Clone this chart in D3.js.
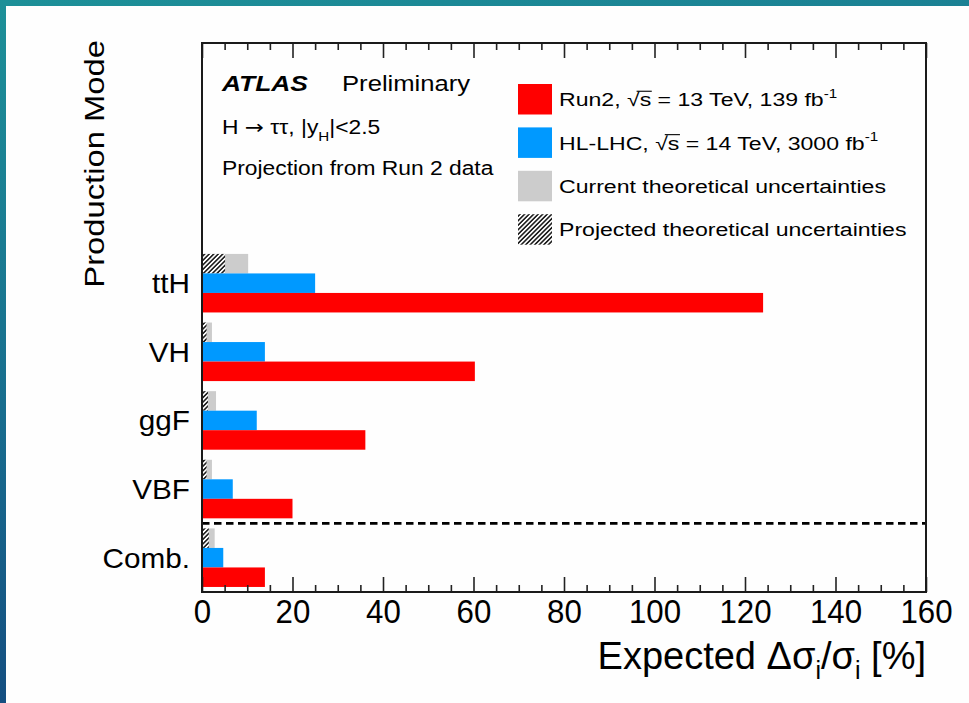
<!DOCTYPE html>
<html><head><meta charset="utf-8">
<script src="https://cdn.jsdelivr.net/npm/d3@7"></script>
<style>
body{margin:0;background:#fff;}
svg{display:block;}
text{font-family:"Liberation Sans",Arial,Helvetica,sans-serif;fill:#000;}
</style>
</head><body>
<svg id="chart" width="969" height="703"></svg>
<script>
// ---------------- data ----------------
const categories = ["ttH", "VH", "ggF", "VBF", "Comb."];
const run2Values = [124.0, 60.3, 36.1, 20.0, 13.9];
const hllhcValues = [25.0, 13.9, 12.1, 6.8, 4.7];
const currentTheoryValues = [10.2, 2.2, 3.1, 2.2, 2.8];
const projectedTheoryValues = [5.1, 1.0, 1.3, 1.0, 1.5];
const xMajorTicks = [0, 20, 40, 60, 80, 100, 120, 140, 160];
const xMinorTicks = d3.range(0, 161, 5).filter(v => v % 20 !== 0);
const legendKeys = ["run2", "hllhc", "current", "projected"];
const xDomain = [0, 160];

// ---------------- layout ----------------
const W = 969, H = 703;
const plot = {left: 202, right: 926, top: 43, bottom: 592};
const emptySlots = 3; // room above the bars kept for the legend
const colors = {run2: "#ff0000", hllhc: "#0099ff", current: "#cccccc"};

const svg = d3.select("#chart");
const defs = svg.append("defs");

// outer background gradient
const grad = defs.append("linearGradient").attr("id", "bg")
  .attr("x1", 0).attr("y1", 0).attr("x2", 0.25).attr("y2", 1);
grad.append("stop").attr("offset", "0%").attr("stop-color", "#1d9098");
grad.append("stop").attr("offset", "55%").attr("stop-color", "#186d8e");
grad.append("stop").attr("offset", "100%").attr("stop-color", "#144a7f");
svg.append("rect").attr("width", W).attr("height", H).attr("fill", "url(#bg)");
svg.append("rect").attr("x", 6).attr("y", 6).attr("width", W - 6).attr("height", H - 6).attr("fill", "#fefefe");

// hatch pattern
const pat = defs.append("pattern").attr("id", "hatch")
  .attr("patternUnits", "userSpaceOnUse").attr("width", 3.2).attr("height", 3.2)
  .attr("patternTransform", "rotate(45)");
pat.append("rect").attr("width", 3.2).attr("height", 3.2).attr("fill", "#ffffff");
pat.append("line").attr("x1", 0.8).attr("y1", 0).attr("x2", 0.8).attr("y2", 3.2)
  .attr("stroke", "#111").attr("stroke-width", 1.5);

// scales
const x = d3.scaleLinear().domain(xDomain).range([plot.left, plot.right]);
const slot = (plot.bottom - plot.top) / (categories.length + emptySlots);
const y = d3.scaleBand().domain(categories)
  .range([plot.top + emptySlots * slot, plot.bottom])
  .paddingInner(0.147).paddingOuter(0.0735);
const sub = d3.scaleBand().domain(["theory", "hllhc", "run2"]).range([0, y.bandwidth()]);

const rows = categories.map((c, i) => ({
  cat: c, run2: run2Values[i], hllhc: hllhcValues[i],
  current: currentTheoryValues[i], projected: projectedTheoryValues[i]
}));

// bars
const gBars = svg.append("g");
const grp = gBars.selectAll("g.grp").data(rows).join("g")
  .attr("transform", d => `translate(0,${y(d.cat)})`);
grp.append("rect").attr("x", x(0)).attr("y", sub("theory"))
  .attr("width", d => x(d.current) - x(0)).attr("height", sub.bandwidth())
  .attr("fill", colors.current);
grp.append("rect").attr("x", x(0)).attr("y", sub("theory"))
  .attr("width", d => x(d.projected) - x(0)).attr("height", sub.bandwidth())
  .attr("fill", "url(#hatch)");
grp.append("rect").attr("x", x(0)).attr("y", sub("hllhc"))
  .attr("width", d => x(d.hllhc) - x(0)).attr("height", sub.bandwidth())
  .attr("fill", colors.hllhc);
grp.append("rect").attr("x", x(0)).attr("y", sub("run2"))
  .attr("width", d => x(d.run2) - x(0)).attr("height", sub.bandwidth())
  .attr("fill", colors.run2);

// dashed separator between VBF and Comb.
const sepY = (y("VBF") + y.bandwidth() + y("Comb.")) / 2;
svg.append("line").attr("x1", plot.left).attr("x2", plot.right)
  .attr("y1", sepY).attr("y2", sepY)
  .attr("stroke", "#000").attr("stroke-width", 2.6).attr("stroke-dasharray", "7.5,4.5");

// axes (ticks inward, bottom and top)
function styleAxis(g) {
  g.select(".domain").remove();
  g.selectAll(".tick line").attr("stroke", "#222").attr("stroke-width", 1.6);
}
const axB = svg.append("g").attr("transform", `translate(0,${plot.bottom})`)
  .call(d3.axisBottom(x).tickValues(xMajorTicks).tickSize(-15).tickPadding(8).tickFormat(d3.format("d")))
  .call(styleAxis);
axB.selectAll(".tick text").attr("dy", null).attr("y", 31)
  .attr("font-size", 34).attr("transform", "scale(0.92,1)")
  .style("font-family", "'Liberation Sans',Arial,sans-serif").attr("fill", "#000");
svg.append("g").attr("transform", `translate(0,${plot.bottom})`)
  .call(d3.axisBottom(x).tickValues(xMinorTicks).tickSize(-7).tickFormat(""))
  .call(styleAxis);
svg.append("g").attr("transform", `translate(0,${plot.top})`)
  .call(d3.axisTop(x).tickValues(xMajorTicks).tickSize(-15).tickFormat(""))
  .call(styleAxis);
svg.append("g").attr("transform", `translate(0,${plot.top})`)
  .call(d3.axisTop(x).tickValues(xMinorTicks).tickSize(-7).tickFormat(""))
  .call(styleAxis);

// frame
svg.append("rect").attr("x", plot.left).attr("y", plot.top)
  .attr("width", plot.right - plot.left).attr("height", plot.bottom - plot.top)
  .attr("fill", "none").attr("stroke", "#1a1a1a").attr("stroke-width", 2);

// category labels
const yAx = svg.append("g").attr("transform", `translate(${plot.left},0)`)
  .call(d3.axisLeft(y).tickSize(0).tickPadding(0));
yAx.select(".domain").remove();
yAx.selectAll(".tick text").attr("dy", null).attr("x", -12).attr("y", 10)
  .attr("font-size", 27).attr("text-anchor", "end")
  .attr("transform", "translate(-12,0) scale(1.1,1) translate(12,0)")
  .style("font-family", "'Liberation Sans',Arial,sans-serif").attr("fill", "#000");

// helper for rich text lines
function richText(parent, tx, ty, sx, parts, anchor, rot) {
  const g = parent.append("g").attr("transform",
    `translate(${tx},${ty})` + (rot ? ` rotate(${rot})` : "") + ` scale(${sx},1)`);
  const t = g.append("text").attr("text-anchor", anchor || "start");
  parts.forEach(p => {
    const ts = t.append("tspan").text(p.t).attr("font-size", p.size);
    if (p.dy) ts.attr("dy", p.dy);
    if (p.weight) ts.attr("font-weight", p.weight);
    if (p.style) ts.attr("font-style", p.style);
    if (p.family) ts.style("font-family", p.family);
  });
  return {g, t};
}

// y axis title
richText(svg, 104, 40, 1.15, [{t: "Production Mode", size: 28.5}], "end", -90);

// x axis title
richText(svg, plot.right, 669, 1.0, [
  {t: "Expected Δσ", size: 38},
  {t: "i", size: 25, dy: 10},
  {t: "/σ", size: 38, dy: -10},
  {t: "i", size: 25, dy: 10},
  {t: " [%]", size: 38, dy: -10}
], "end");

// ATLAS label
richText(svg, 222, 91, 1.2, [{t: "ATLAS", size: 22, weight: "bold", style: "italic"}]);
richText(svg, 342, 91, 1.15, [{t: "Preliminary", size: 22.3}]);
richText(svg, 222, 134, 1.17, [
  {t: "H ", size: 19.5},
  {t: "→", size: 19.5, family: "'DejaVu Sans',sans-serif"},
  {t: " ττ, |y", size: 19.5},
  {t: "H", size: 13, dy: 7},
  {t: "|<2.5", size: 19.5, dy: -7}
]);
richText(svg, 222, 175, 1.17, [{t: "Projection from Run 2 data", size: 19.5}]);

// legend
const legBox = {x: 518, y0: 84, w: 34, h: 30.5, step: 43.4, tx: 559};
const legFill = {run2: colors.run2, hllhc: colors.hllhc, current: colors.current, projected: "url(#hatch)"};
legendKeys.forEach((k, i) => {
  const yy = legBox.y0 + i * legBox.step;
  svg.append("rect").attr("x", legBox.x).attr("y", yy).attr("width", legBox.w).attr("height", legBox.h)
    .attr("fill", legFill[k]);
  const base = yy + legBox.h / 2 + 7;
  let parts;
  if (k === "run2") parts = [{t: "Run2, √", size: 19}, {t: "s", size: 19}, {t: " = 13 TeV, 139 fb", size: 19}, {t: "-1", size: 12.5, dy: -8.5}];
  else if (k === "hllhc") parts = [{t: "HL-LHC, √", size: 19}, {t: "s", size: 19}, {t: " = 14 TeV, 3000 fb", size: 19}, {t: "-1", size: 12.5, dy: -8.5}];
  else if (k === "current") parts = [{t: "Current theoretical uncertainties", size: 19}];
  else parts = [{t: "Projected theoretical uncertainties", size: 19}];
  const r = richText(svg, legBox.tx, base, 1.215, parts);
  if (k === "run2" || k === "hllhc") {
    const idx = parts[0].t.length;
    const node = r.t.node();
    const s0 = node.getStartPositionOfChar(idx).x - 2.5;
    const s1 = node.getEndPositionOfChar(idx).x + 0.5;
    r.g.append("line").attr("x1", s0).attr("x2", s1).attr("y1", -15).attr("y2", -15)
      .attr("stroke", "#000").attr("stroke-width", 1.1);
  }
});
</script>
</body></html>
